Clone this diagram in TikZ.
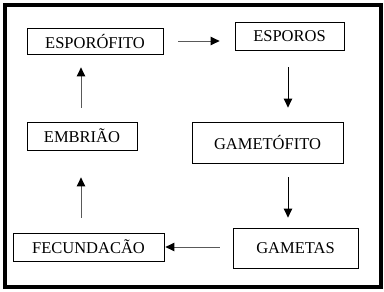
\documentclass[tikz,border=0pt]{standalone}
\usepackage{fontspec}
\setmainfont{Liberation Serif}
\usetikzlibrary{arrows.meta,positioning}

\begin{document}
\begin{tikzpicture}[
  x=1pt, y=-1pt,
  stage/.style={draw, rectangle, line width=0.8pt, inner sep=0pt, align=center,
    font=\fontsize{16.5}{18}\selectfont},
  arr/.style={-{Triangle[length=9pt, width=8.5pt, color=black]}, line width=1pt, gray!70!black},
  darr/.style={arr, black}
]
  \useasboundingbox (0,0) rectangle (384,292);
  \draw[line width=4pt] (5,5) rectangle (381,287);

  \node[stage, minimum width=136pt, minimum height=26pt] (esporofito) at (95,41) {ESPORÓFITO};
  \node[stage, minimum width=109pt, minimum height=28pt] (esporos) at (289.5,36) {ESPOROS};
  \node[stage, minimum width=151pt, minimum height=41pt] (gametofito) at (267.5,142.5) {GAMETÓFITO};
  \node[stage, minimum width=125pt, minimum height=40pt] (gametas) at (295.5,248) {GAMETAS};
  \node[stage, minimum width=151pt, minimum height=28pt] (fecundacao) at (88.5,247) {FECUNDACÃO};
  \node[stage, minimum width=110pt, minimum height=28pt] (embriao) at (82,136) {EMBRIÃO};

  % ciclo
  \draw[arr, shorten <=15pt, shorten >=15pt] (esporofito.east) -- (esporofito.east -| esporos.west);
  \draw[darr, shorten <=17pt, shorten >=14pt] ([xshift=-1.5pt]esporos.south) -- ([xshift=-1.5pt]esporos.south |- gametofito.north);
  \draw[darr, shorten <=14pt, shorten >=10pt] ([xshift=-1.5pt]esporos.south |- gametofito.south) -- ([xshift=-1.5pt]esporos.south |- gametas.north);
  \draw[arr, shorten <=13pt, shorten >=1pt] (gametas.west |- fecundacao.east) -- (fecundacao.east);
  \draw[arr, shorten <=15pt, shorten >=27pt] ([xshift=-1pt]embriao.south |- fecundacao.north) -- ([xshift=-1pt]embriao.south);
  \draw[arr, shorten <=14pt, shorten >=13pt] ([xshift=-1pt]embriao.north) -- ([xshift=-1pt]embriao.north |- esporofito.south);
\end{tikzpicture}
\end{document}
